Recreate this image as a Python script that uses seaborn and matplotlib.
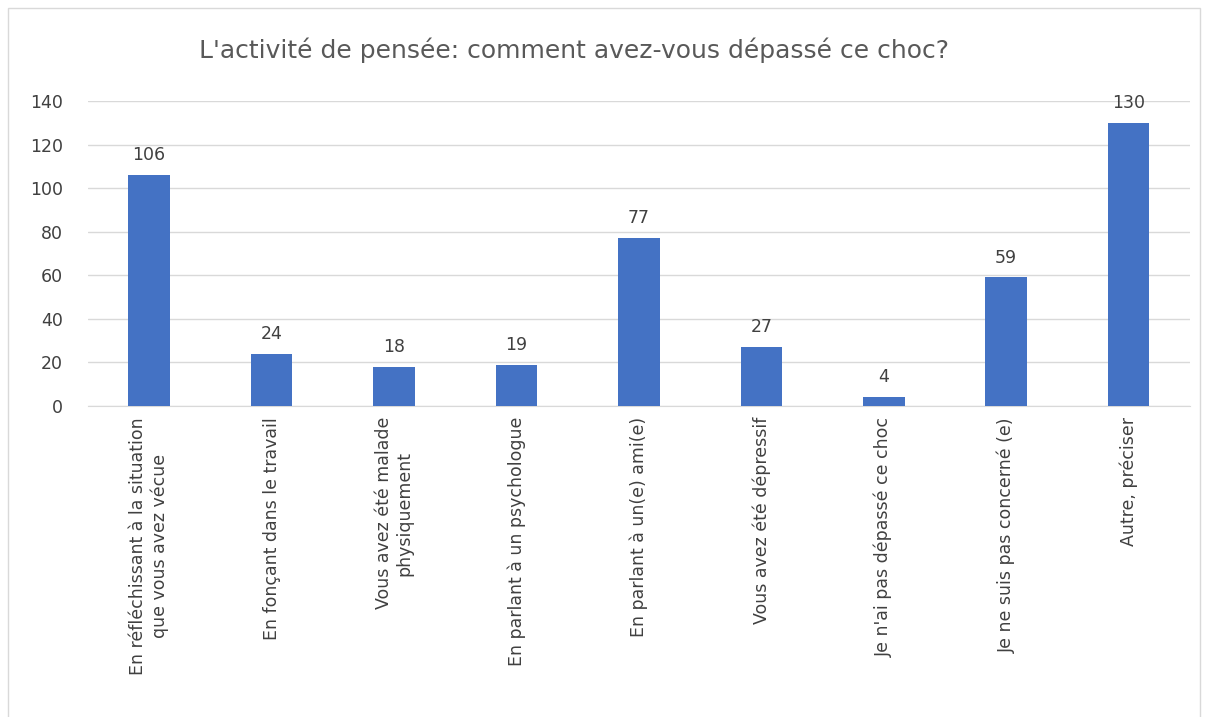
import matplotlib.pyplot as plt
import seaborn as sns
import pandas as pd

# chart values
categories = [
    "En réfléchissant à la situation\nque vous avez vécue",
    "En fonçant dans le travail",
    "Vous avez été malade\nphysiquement",
    "En parlant à un psychologue",
    "En parlant à un(e) ami(e)",
    "Vous avez été dépressif",
    "Je n'ai pas dépassé ce choc",
    "Je ne suis pas concerné (e)",
    "Autre, préciser",
]
counts = [106, 24, 18, 19, 77, 27, 4, 59, 130]
y_ticks = [0, 20, 40, 60, 80, 100, 120, 140]

df = pd.DataFrame({"categorie": categories, "nombre": counts})

sns.set_style("white")
plt.rcParams["font.family"] = ["DejaVu Sans"]

fig = plt.figure(figsize=(12.08, 7.17), dpi=100)
ax = fig.add_axes([0.0728, 0.4338, 0.9122, 0.4252])

sns.barplot(data=df, x="categorie", y="nombre", color="#4472C4",
            width=0.34, saturation=1, linewidth=0, ax=ax, zorder=3)

for i, v in enumerate(counts):
    ax.text(i, v + 5, str(v), ha="center", va="bottom", fontsize=12.5, color="#404040")

ax.set_ylim(0, 140)
ax.set_yticks(y_ticks)
ax.yaxis.grid(True, color="#D9D9D9", linewidth=1, zorder=0)
ax.set_xlabel("")
ax.set_ylabel("")
ax.tick_params(axis="both", length=0, labelsize=12.5, colors="#404040")
ax.tick_params(axis="y", pad=18)
ax.tick_params(axis="x", pad=8)
ax.set_xticks(range(len(categories)))
ax.set_xticklabels(categories, rotation=90, ha="center", va="top", multialignment="center")

for side in ["left", "right", "top"]:
    ax.spines[side].set_visible(False)
ax.spines["bottom"].set_color("#D9D9D9")

fig.text(0.475, 0.93, "L'activité de pensée: comment avez-vous dépassé ce choc?",
         ha="center", va="center", fontsize=18, color="#595959")

# outer chart border
fig.patches.append(plt.Rectangle((0.007, -0.01), 0.986, 0.999, transform=fig.transFigure,
                                 fill=False, edgecolor="#D9D9D9", linewidth=1))

fig.savefig("out.png", dpi=100)
